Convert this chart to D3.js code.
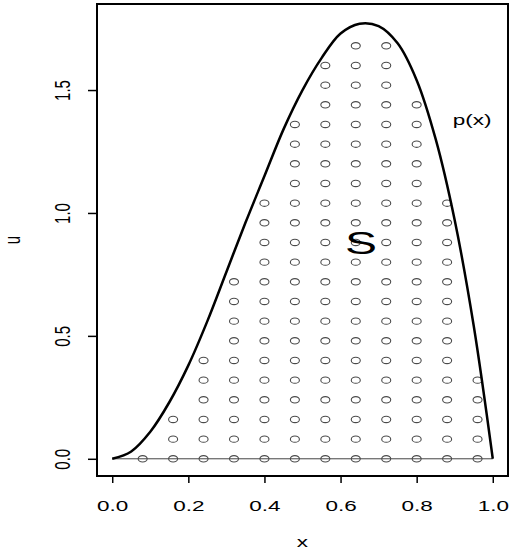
<!DOCTYPE html>
<html>
<head>
<meta charset="utf-8">
<script src="https://cdn.jsdelivr.net/npm/d3@7"></script>
<style>
  body { margin: 0; background: #fff; }
  svg { display: block; }
  text { font-family: "Liberation Sans", Arial, sans-serif; fill: #000; }
</style>
</head>
<body>
<svg id="chart" width="511" height="551"></svg>
<script>
// density curve p(x)
var curveX = [0, 0.05, 0.10, 0.15, 0.20, 0.25, 0.30, 0.35, 0.40, 0.45, 0.50,
              0.55, 0.60, 0.65, 0.70, 0.75, 0.80, 0.85, 0.90, 0.95, 1.00];
var curveY = [0, 0.03, 0.11, 0.23, 0.38, 0.56, 0.76, 0.96, 1.15, 1.34, 1.50,
              1.63, 1.73, 1.77, 1.76, 1.69, 1.54, 1.30, 0.97, 0.54, 0];

// grid points inside S: column positions and the highest row in each column
var pointCols = [0.08, 0.16, 0.24, 0.32, 0.40, 0.48, 0.56, 0.64, 0.72, 0.80, 0.88, 0.96];
var pointTops = [0, 0.16, 0.40, 0.72, 1.04, 1.36, 1.60, 1.68, 1.68, 1.44, 1.04, 0.32];
var rowStep = 0.08;

var xTicks = [0, 0.2, 0.4, 0.6, 0.8, 1.0];
var yTicks = [0, 0.5, 1.0, 1.5];

var svg = d3.select("#chart");
var stretch = 1.5; // picture is stretched sideways

var x = d3.scaleLinear().domain([-0.04, 1.04]).range([97, 508]);
var y = d3.scaleLinear().domain([-0.07, 1.85]).range([476, 4]);

// build list of points
var points = [];
pointCols.forEach(function(cx, i) {
  var n = Math.round(pointTops[i] / rowStep);
  for (var k = 0; k <= n; k++) {
    points.push({ x: cx, y: k * rowStep });
  }
});

// baseline u = 0
svg.append("line")
  .attr("x1", x(0)).attr("x2", x(1))
  .attr("y1", y(0)).attr("y2", y(0))
  .attr("stroke", "#444")
  .attr("stroke-width", 1);

// points
svg.selectAll("ellipse.pt")
  .data(points)
  .enter()
  .append("ellipse")
  .attr("class", "pt")
  .attr("cx", function(d) { return x(d.x); })
  .attr("cy", function(d) { return y(d.y); })
  .attr("rx", 4.5)
  .attr("ry", 3.2)
  .attr("fill", "none")
  .attr("stroke", "#4a4a4a")
  .attr("stroke-width", 1.1);

// curve
var line = d3.line()
  .x(function(d, i) { return x(curveX[i]); })
  .y(function(d) { return y(d); })
  .curve(d3.curveCatmullRom);

svg.append("path")
  .attr("d", line(curveY))
  .attr("fill", "none")
  .attr("stroke", "#000")
  .attr("stroke-width", 2.5);

// frame
svg.append("rect")
  .attr("x", 97).attr("y", 4)
  .attr("width", 411).attr("height", 472)
  .attr("fill", "none")
  .attr("stroke", "#000")
  .attr("stroke-width", 2);

// x axis
var gx = svg.append("g")
  .attr("transform", "translate(0,476)")
  .call(d3.axisBottom(x).tickValues(xTicks).tickSize(7).tickFormat(d3.format(".1f")));
gx.select(".domain").remove();
gx.selectAll(".tick line").attr("stroke", "#000").attr("stroke-width", 1.5);
gx.selectAll(".tick text")
  .attr("y", 0).attr("dy", null)
  .attr("transform", "translate(0,35) scale(" + stretch + ",1)")
  .style("font-size", "15px")
  .style("font-family", "Liberation Sans, Arial, sans-serif")
  .attr("fill", "#000");

// y axis
var gy = svg.append("g")
  .attr("transform", "translate(97,0)")
  .call(d3.axisLeft(y).tickValues(yTicks).tickSize(9).tickFormat(d3.format(".1f")));
gy.select(".domain").remove();
gy.selectAll(".tick line").attr("stroke", "#000").attr("stroke-width", 1.5);
gy.selectAll(".tick text")
  .attr("x", 0).attr("dy", null)
  .attr("text-anchor", "middle")
  .attr("transform", "translate(-27,0) scale(" + stretch + ",1) rotate(-90)")
  .style("font-size", "15px")
  .style("font-family", "Liberation Sans, Arial, sans-serif")
  .attr("fill", "#000");

// helper for stretched text
function label(txt, px, py, size, rot) {
  var t = "translate(" + px + "," + py + ") scale(" + stretch + ",1)";
  if (rot) t += " rotate(" + rot + ")";
  return svg.append("text")
    .attr("transform", t)
    .attr("text-anchor", "middle")
    .style("font-size", size + "px")
    .text(txt);
}

label("x", 302.5, 547, 15);
label("u", 20, 240, 15, -90);
label("p(x)", 472, 125, 15);
label("S", 361, 254, 32);
</script>
</body>
</html>
